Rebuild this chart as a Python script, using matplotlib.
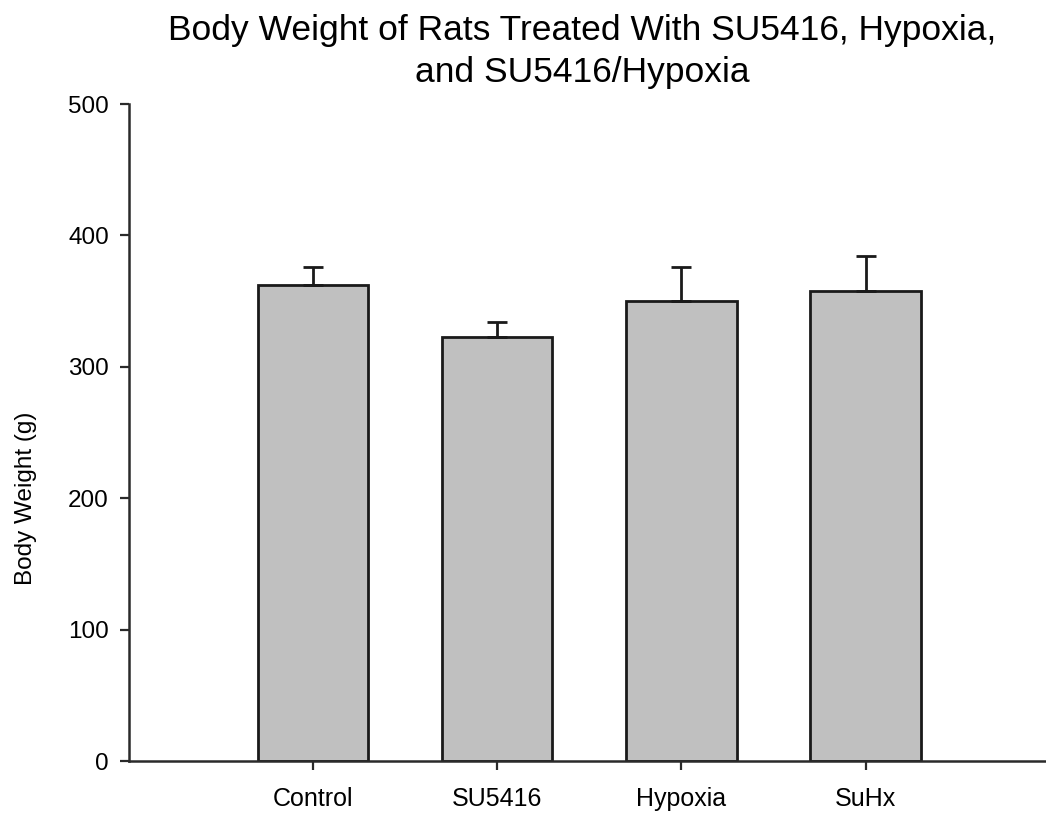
import numpy as np
import matplotlib
matplotlib.use("Agg")
import matplotlib.pyplot as plt

plt.rcParams['font.family'] = ['Liberation Sans', 'DejaVu Sans']

groups = ['Control', 'SU5416', 'Hypoxia', 'SuHx']
mean_weight = [362, 323, 350, 358]
sem_weight = [14, 11, 26, 26]

fig = plt.figure(figsize=(10.46, 8.17), dpi=100)
ax = fig.add_axes([0.1233, 0.0685, 0.8767, 0.8042])

x = np.arange(len(groups))
ax.bar(x, mean_weight, width=0.6, color='#c0c0c0', edgecolor='#1a1a1a',
       linewidth=2, zorder=2)
# upper error bars only
ax.errorbar(x, mean_weight, yerr=[np.zeros(len(x)), sem_weight], fmt='none',
            ecolor='#1a1a1a', elinewidth=2, capsize=7.2, capthick=2, zorder=3)

ax.set_xlim(-1.0, 3.98)
ax.set_ylim(0, 500)
ax.set_yticks([0, 100, 200, 300, 400, 500])
ax.set_xticks(x)
ax.set_xticklabels(groups)

for side in ['top', 'right']:
    ax.spines[side].set_visible(False)
for side in ['left', 'bottom']:
    ax.spines[side].set_linewidth(1.8)
    ax.spines[side].set_color('#2a2a2a')

ax.tick_params(axis='both', direction='out', length=6.5, width=1.6,
               color='#2a2a2a', pad=8)
ax.tick_params(axis='x', labelsize=18, pad=12)
ax.tick_params(axis='y', labelsize=17.5)

ax.set_ylabel('Body Weight (g)', fontsize=17.5)
ax.yaxis.set_label_coords(-0.1, 0.40)

fig.text(0.557, 1 - 40 / 817, 'Body Weight of Rats Treated With SU5416, Hypoxia,',
         ha='center', va='baseline', fontsize=25.5)
fig.text(0.557, 1 - 82 / 817, 'and SU5416/Hypoxia',
         ha='center', va='baseline', fontsize=25.5)

fig.savefig('out.png', dpi=100)
